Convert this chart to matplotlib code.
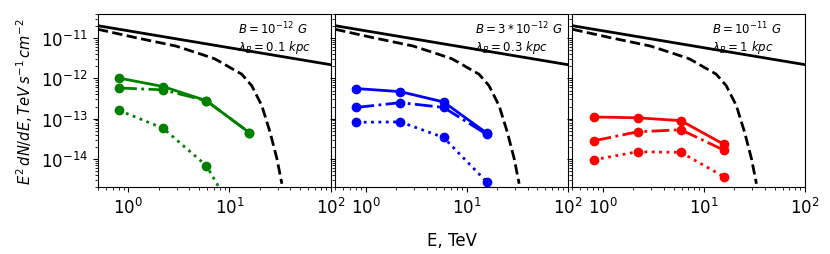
import matplotlib
matplotlib.use('Agg')
import matplotlib.pyplot as plt

# Energy bins of the simulated points [TeV]
E_points = [0.81, 2.2, 5.9, 15.7]

# Intrinsic power law (solid black) and absorbed spectrum (dashed black)
E_intrinsic = [0.5, 100.0]
F_intrinsic = [2.05e-11, 2.2e-12]
E_absorbed = [0.5, 1.17, 2.95, 5.25, 7.1, 8.3, 10.0, 13.2, 16.6, 20.9, 25.2, 29.5, 33.0]
F_absorbed = [1.67e-11, 1.04e-11, 6.4e-12, 4.0e-12, 3.1e-12, 2.5e-12, 1.9e-12,
              1.28e-12, 6.6e-13, 2.1e-13, 4.6e-14, 1.0e-14, 2.4e-15]

# Cascade fluxes for each magnetic field setup (solid, dash-dot, dotted)
green_solid = [1.02e-12, 6.3e-13, 2.8e-13, 4.5e-14]
green_dashdot = [5.8e-13, 5.2e-13, 2.8e-13, 4.5e-14]
green_dotted = [1.6e-13, 5.8e-14, 6.8e-15, 1.0e-16]

blue_solid = [5.6e-13, 4.7e-13, 2.6e-13, 4.4e-14]
blue_dashdot = [1.9e-13, 2.5e-13, 1.9e-13, 4.1e-14]
blue_dotted = [8.1e-14, 8.3e-14, 3.4e-14, 2.7e-15]

red_solid = [1.1e-13, 1.05e-13, 8.9e-14, 2.3e-14]
red_dashdot = [2.8e-14, 4.7e-14, 5.3e-14, 1.65e-14]
red_dotted = [9.5e-15, 1.5e-14, 1.45e-14, 3.6e-15]

labels = [r'$B = 10^{-12}\ G$' + '\n' + r'$\lambda_B = 0.1\ kpc$',
          r'$B = 3*10^{-12}\ G$' + '\n' + r'$\lambda_B = 0.3\ kpc$',
          r'$B = 10^{-11}\ G$' + '\n' + r'$\lambda_B = 1\ kpc$']

x_ticks = [1, 10, 100]
y_ticks = [1e-14, 1e-13, 1e-12, 1e-11]

panels = [('green', green_solid, green_dashdot, green_dotted),
          ('blue', blue_solid, blue_dashdot, blue_dotted),
          ('red', red_solid, red_dashdot, red_dotted)]

fig, axes = plt.subplots(1, 3, sharey=True, figsize=(8.3, 2.55), dpi=100)
fig.subplots_adjust(left=0.118, right=0.97, top=0.941, bottom=0.263, wspace=0.02)

for ax, (color, solid, dashdot, dotted), label in zip(axes, panels, labels):
    # - model curves
    ax.plot(E_intrinsic, F_intrinsic, '-', color='black', lw=2)
    ax.plot(E_absorbed, F_absorbed, '--', color='black', lw=2)
    # - cascade points
    ax.plot(E_points, solid, '-o', color=color, lw=2, ms=6)
    ax.plot(E_points, dashdot, '-.o', color=color, lw=2, ms=6)
    ax.plot(E_points, dotted, ':o', color=color, lw=2, ms=6)
    ax.set_xscale('log')
    ax.set_yscale('log')
    ax.set_xticks(x_ticks)
    ax.set_yticks(y_ticks)
    ax.set_xlim(0.5, 100)
    ax.set_ylim(2e-15, 4e-11)
    ax.tick_params(labelsize=12)
    ax.text(0.6, 0.965, label, transform=ax.transAxes, ha='left', va='top',
            fontsize=8.5, linespacing=1.15)

axes[0].set_ylabel(r'$E^2\, dN/dE, TeV\, s^{-1}\, cm^{-2}$', fontsize=10.5)
axes[1].set_xlabel('E, TeV', fontsize=12, labelpad=10)

fig.savefig('out.png', dpi=100)
